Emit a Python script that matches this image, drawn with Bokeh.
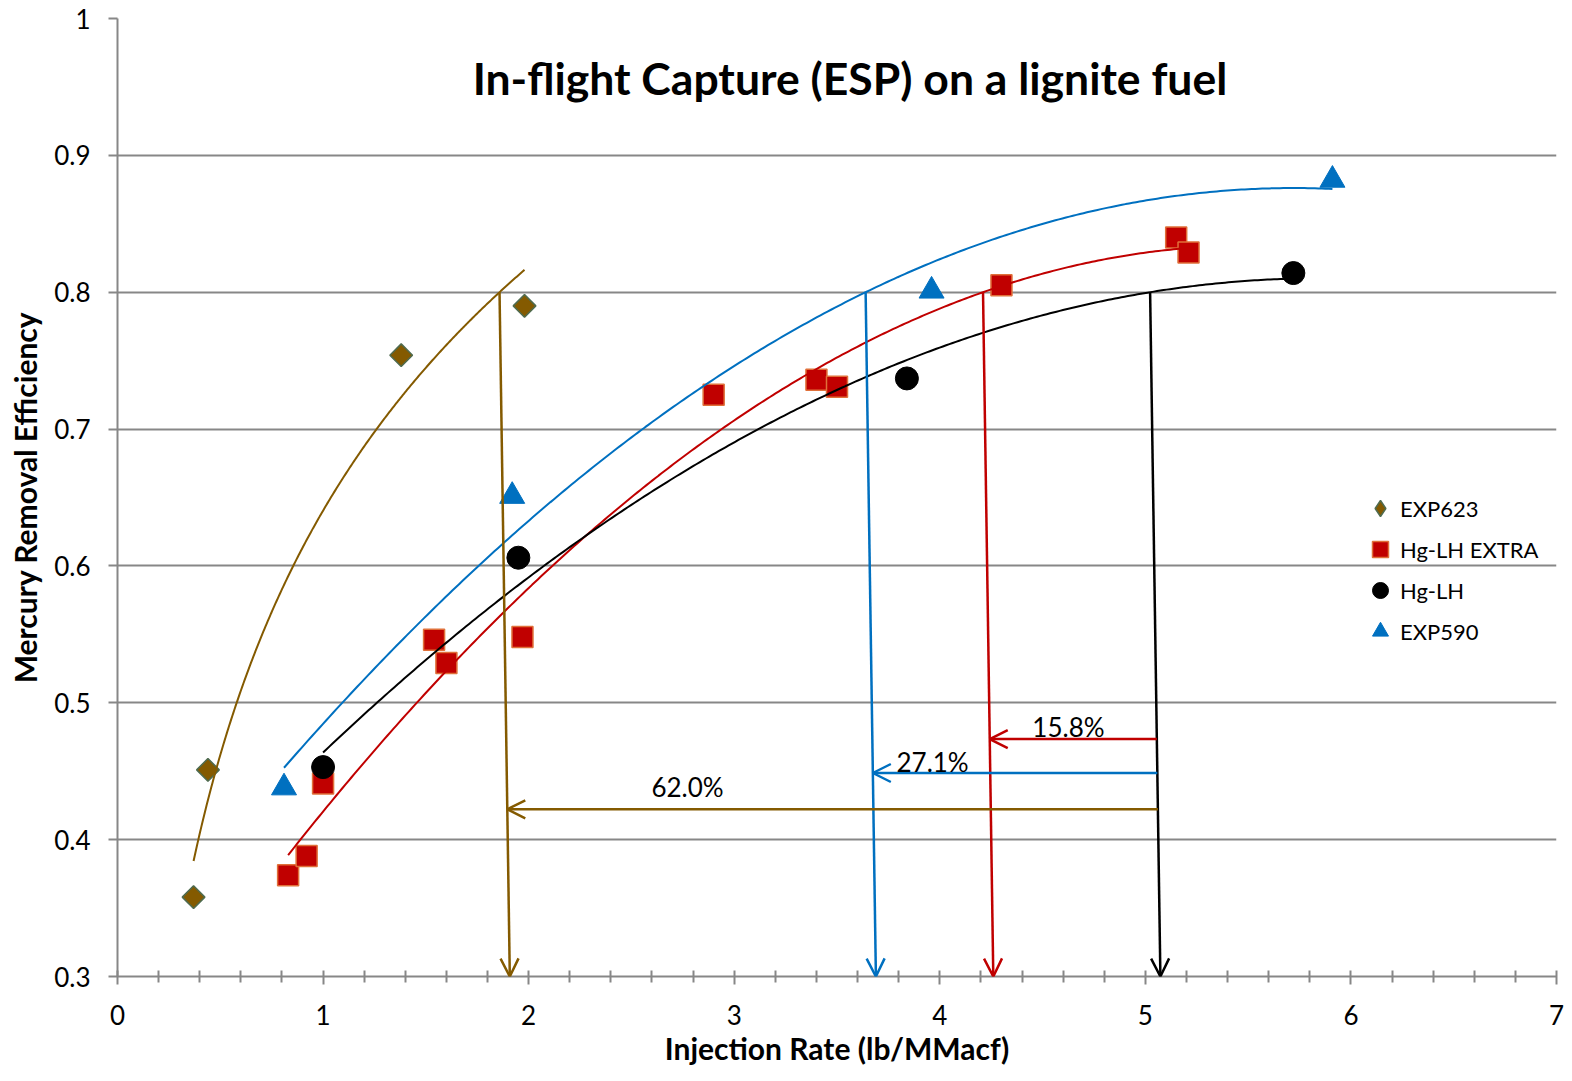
import numpy as np
from bokeh.plotting import figure
from bokeh.models import (Legend, LegendItem, Arrow, OpenHead, Label, Range1d,
                          FixedTicker)
from bokeh.embed import file_html
from bokeh.resources import INLINE

# ---------------- data ----------------
exp623_x = [0.37, 0.44, 1.38, 1.98]
exp623_y = [0.358, 0.451, 0.754, 0.790]

extra_x = [0.83, 0.92, 1.00, 1.54, 1.60, 1.97, 2.90, 3.40, 3.50, 4.30, 5.15, 5.21]
extra_y = [0.374, 0.388, 0.441, 0.546, 0.529, 0.548, 0.725, 0.736, 0.731, 0.805, 0.840, 0.829]

hglh_x = [1.00, 1.95, 3.84, 5.72]
hglh_y = [0.453, 0.606, 0.737, 0.814]

exp590_x = [0.81, 1.92, 3.96, 5.91]
exp590_y = [0.438, 0.651, 0.801, 0.882]

series_names = ["EXP623", "Hg-LH EXTRA", "Hg-LH", "EXP590"]
x_ticks = [0, 1, 2, 3, 4, 5, 6, 7]
y_ticks = [0.3, 0.4, 0.5, 0.6, 0.7, 0.8, 0.9, 1.0]
y_tick_labels = ["0.3", "0.4", "0.5", "0.6", "0.7", "0.8", "0.9", "1"]
target_eff = 0.8
pct_labels = ["15.8%", "27.1%", "62.0%"]

title_text = "In-flight Capture (ESP) on a lignite fuel"
x_label = "Injection Rate (lb/MMacf)"
y_label = "Mercury Removal Efficiency"

# ---------------- colours / fonts ----------------
BROWN = "#845A00"
RED = "#C00000"
BLUE = "#0070C0"
BLACK = "#000000"
GRID = "#878787"
FONT = "Lato"

# ---------------- trendlines (fits of the data) ----------------
def poly_trend(xs, ys):
    c = np.polyfit(xs, ys, 2)
    xx = np.linspace(min(xs), max(xs), 300)
    r = np.roots(np.array(c) - np.array([0, 0, target_eff]))
    r = [v.real for v in r if abs(v.imag) < 1e-9 and min(xs) <= v.real <= max(xs) + 0.5]
    return xx, np.polyval(c, xx), min(r)

def log_trend(xs, ys):
    a, b = np.polyfit(np.log(xs), ys, 1)
    xx = np.linspace(min(xs), max(xs), 300)
    return xx, a * np.log(xx) + b, float(np.exp((target_eff - b) / a))

t623 = log_trend(exp623_x, exp623_y)
textra = poly_trend(extra_x, extra_y)
thglh = poly_trend(hglh_x, hglh_y)
t590 = poly_trend(exp590_x, exp590_y)

# ---------------- figure ----------------
p = figure(width=1564, height=1073, output_backend="svg", toolbar_location=None,
           x_range=Range1d(0, 7), y_range=Range1d(0.3, 1.0),
           min_border_left=117, min_border_right=8, min_border_top=18,
           min_border_bottom=97)
p.outline_line_color = None
p.background_fill_color = "white"
p.border_fill_color = "white"

p.xgrid.grid_line_color = None
p.ygrid.grid_line_color = GRID
p.ygrid.grid_line_width = 2

p.xaxis.ticker = FixedTicker(ticks=x_ticks,
                             minor_ticks=[i * 0.2 for i in range(36) if i % 5 != 0])
p.yaxis.ticker = FixedTicker(ticks=y_ticks)
p.yaxis.major_label_overrides = {v: l for v, l in zip(y_ticks, y_tick_labels)}

for ax in (p.xaxis[0], p.yaxis[0]):
    ax.axis_line_color = GRID
    ax.axis_line_width = 2
    ax.major_tick_line_color = GRID
    ax.major_tick_line_width = 2
    ax.minor_tick_line_color = GRID
    ax.minor_tick_line_width = 2
    ax.major_label_text_font = FONT
    ax.major_label_text_font_size = "26px"
    ax.major_label_text_color = "black"
    ax.axis_label_text_font = FONT
    ax.axis_label_text_font_style = "bold"
    ax.axis_label_text_font_size = "30px"
    ax.axis_label_text_color = "black"

p.xaxis.major_tick_in = 6
p.xaxis.major_tick_out = 8
p.xaxis.minor_tick_in = 6
p.xaxis.minor_tick_out = 6
p.xaxis.major_label_standoff = 20
p.xaxis.axis_label = x_label
p.xaxis.axis_label_standoff = 2

p.yaxis.major_tick_in = 0
p.yaxis.major_tick_out = 9
p.yaxis.minor_tick_line_color = None
p.yaxis.major_label_standoff = 18
p.yaxis.axis_label = y_label
p.yaxis.axis_label_standoff = 8

# markers (a diamond proxy sits under the rotated squares and stands in the legend)
r623_leg = p.scatter(exp623_x, exp623_y, marker="diamond", size=21,
                     fill_color=BROWN, line_color="#4F6B4F", line_width=1.5)
r623 = p.scatter(exp623_x, exp623_y, marker="square", angle=np.pi / 4, size=16,
                 fill_color=BROWN, line_color="#4F6B4F", line_width=1.5)
rextra = p.scatter(extra_x, extra_y, marker="square", size=21,
                   fill_color=RED, line_color="#E0703A", line_width=1.5)
rhglh = p.scatter(hglh_x, hglh_y, marker="circle", size=23,
                  fill_color=BLACK, line_color=BLACK)
r590 = p.scatter(exp590_x, exp590_y, marker="triangle", size=25,
                 fill_color=BLUE, line_color=BLUE)

# trendlines
p.line(t623[0], t623[1], line_color=BROWN, line_width=2)
p.line(textra[0], textra[1], line_color=RED, line_width=2)
p.line(thglh[0], thglh[1], line_color=BLACK, line_width=2)
p.line(t590[0], t590[1], line_color=BLUE, line_width=2)

# vertical arrows from the 0.8 crossing down to the axis
slant = 0.05
def add_arrow(x0, y0, x1, y1, color):
    p.add_layout(Arrow(end=OpenHead(size=18, line_color=color, line_width=2.5),
                       x_start=x0, y_start=y0, x_end=x1, y_end=y1,
                       line_color=color, line_width=2.5))

def x_on_vertical(x_top, y):
    return x_top + slant * (target_eff - y) / (target_eff - 0.3)

for tr, col in ((t623, BROWN), (t590, BLUE), (textra, RED), (thglh, BLACK)):
    add_arrow(tr[2], target_eff, tr[2] + slant, 0.3, col)

# horizontal arrows from the Hg-LH line to the others
h_levels = [0.4735, 0.4487, 0.4222]
for tr, col, yy in ((textra, RED, h_levels[0]), (t590, BLUE, h_levels[1]),
                    (t623, BROWN, h_levels[2])):
    add_arrow(x_on_vertical(thglh[2], yy), yy, x_on_vertical(tr[2], yy), yy, col)

label_pos = [(4.626, 0.4825), (3.965, 0.4568), (2.773, 0.4385)]
for (lx, ly), txt in zip(label_pos, pct_labels):
    p.add_layout(Label(x=lx, y=ly, text=txt, text_align="center",
                       text_baseline="middle", text_font=FONT,
                       text_font_size="26px", text_color="black"))

# title inside the plot
p.add_layout(Label(x=3.563, y=0.957, text=title_text, text_align="center",
                   text_baseline="middle", text_font=FONT, text_font_style="bold",
                   text_font_size="44.5px", text_color="black"))

legend = Legend(items=[LegendItem(label=series_names[0], renderers=[r623_leg]),
                       LegendItem(label=series_names[1], renderers=[rextra]),
                       LegendItem(label=series_names[2], renderers=[rhglh]),
                       LegendItem(label=series_names[3], renderers=[r590])],
                location=(1243, 325), glyph_width=40, glyph_height=40,
                label_height=40, spacing=1, padding=0, margin=0,
                label_standoff=0, border_line_color=None,
                background_fill_alpha=0, label_text_font=FONT,
                label_text_font_size="22px", label_text_color="black")
p.add_layout(legend)

open("out.html", "w").write(file_html(p, INLINE))
